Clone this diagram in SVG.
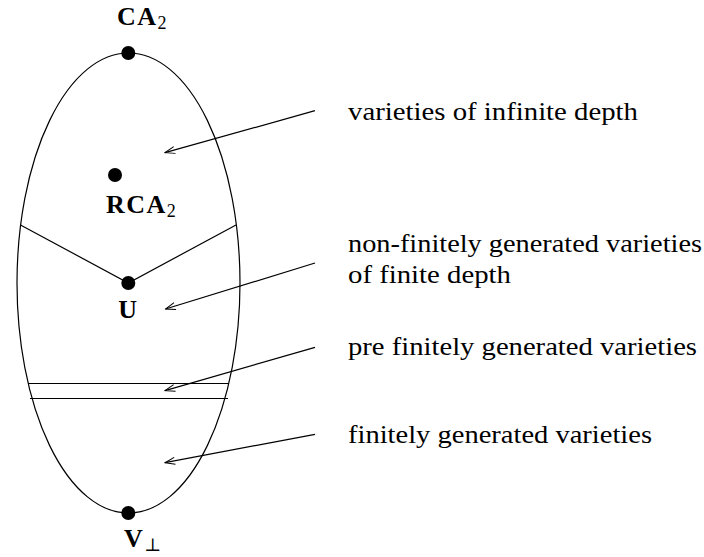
<svg xmlns="http://www.w3.org/2000/svg" width="704" height="557" viewBox="0 0 704 557">
<style>
.ln{stroke:#000;stroke-width:1.2;fill:none}
.dot{fill:#000}
.lbl{font-family:"Liberation Serif","DejaVu Serif",serif;font-size:26px;fill:#000}
.bl{font-family:"Liberation Serif","DejaVu Serif",serif;font-size:26px;font-weight:bold;fill:#000;letter-spacing:1.5px}
.sub{font-size:18px;font-weight:normal;letter-spacing:0}
</style>
<defs>
<marker id="ah" viewBox="0 0 12 8" refX="11" refY="4" markerWidth="12" markerHeight="8" markerUnits="userSpaceOnUse" orient="auto">
<path d="M1,0.5 L11,4 L1,7.5" fill="none" stroke="#000" stroke-width="1"/>
</marker>
</defs>
<rect width="704" height="557" fill="#fff"/>
<g id="region">
<ellipse class="ln" cx="128.5" cy="283" rx="111.5" ry="230"/>
<polyline class="ln" points="20.5,225 128.3,283 236,225"/>
<line class="ln" x1="28" y1="383.5" x2="229" y2="383.5"/>
<line class="ln" x1="30" y1="398.5" x2="228" y2="398.5"/>
</g>
<g id="ca2"><circle class="dot" cx="128.3" cy="53" r="7"/><text class="bl" x="117" y="25">CA<tspan class="sub" dy="4">2</tspan></text></g>
<g id="rca2"><circle class="dot" cx="115" cy="175" r="7"/><text class="bl" x="106" y="213">RCA<tspan class="sub" dy="4">2</tspan></text></g>
<g id="u"><circle class="dot" cx="128.3" cy="283" r="7"/><text class="bl" x="128.5" y="318" text-anchor="middle">U</text></g>
<g id="vbot"><circle class="dot" cx="128.3" cy="513" r="7"/><text class="bl" x="124" y="547">V<tspan class="sub" dy="4">⊥</tspan></text></g>
<g id="l1"><text class="lbl" x="348" y="120" textLength="290" lengthAdjust="spacingAndGlyphs">varieties of infinite depth</text></g>
<g id="l2"><text class="lbl" x="348" y="252" textLength="354" lengthAdjust="spacingAndGlyphs">non-finitely generated varieties</text><text class="lbl" x="348" y="283" textLength="163" lengthAdjust="spacingAndGlyphs">of finite depth</text></g>
<g id="l3"><text class="lbl" x="348" y="355" textLength="349" lengthAdjust="spacingAndGlyphs">pre finitely generated varieties</text></g>
<g id="l4"><text class="lbl" x="348" y="443" textLength="304" lengthAdjust="spacingAndGlyphs">finitely generated varieties</text></g>
<g id="connectors">
<line class="ln" x1="315" y1="110.7" x2="165" y2="152.7" marker-end="url(#ah)"/>
<line class="ln" x1="315" y1="263" x2="165.5" y2="309" marker-end="url(#ah)"/>
<line class="ln" x1="315" y1="347.3" x2="165" y2="390.7" marker-end="url(#ah)"/>
<line class="ln" x1="315" y1="434.3" x2="165" y2="462.7" marker-end="url(#ah)"/>
</g>
</svg>
